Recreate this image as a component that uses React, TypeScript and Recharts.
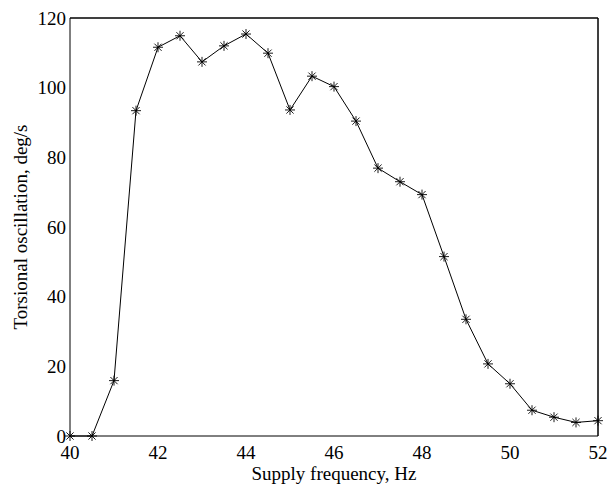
import { LineChart, Line, XAxis, YAxis, ReferenceLine } from "recharts";

const freqs = [40, 40.5, 41, 41.5, 42, 42.5, 43, 43.5, 44, 44.5, 45, 45.5, 46, 46.5, 47, 47.5, 48, 48.5, 49, 49.5, 50, 50.5, 51, 51.5, 52];
const oscillation = [0, 0, 15.9, 93.4, 111.6, 114.9, 107.4, 112.0, 115.4, 109.9, 93.6, 103.3, 100.3, 90.4, 76.9, 73.0, 69.3, 51.5, 33.5, 20.7, 15.0, 7.4, 5.4, 3.9, 4.4];
const xTicks = [40, 42, 44, 46, 48, 50, 52];
const yTicks = [0, 20, 40, 60, 80, 100, 120];

const data = freqs.map((f, i) => ({ f, v: oscillation[i] }));

const FONT = "'Liberation Serif', 'Times New Roman', serif";
const FS = 19;
const tickStyle = { fontSize: FS, fontFamily: FONT, fill: "#000" };
const hiddenLabels = { fontSize: 1, fill: "none" };

// MATLAB style '*' marker
function Star(props: any) {
  const { cx, cy } = props;
  if (cx == null || cy == null) return null;
  const r = 5;
  const d = r * 0.72;
  return (
    <g stroke="#000" strokeWidth={0.9}>
      <line x1={cx - r} y1={cy} x2={cx + r} y2={cy} />
      <line x1={cx} y1={cy - r} x2={cx} y2={cy + r} />
      <line x1={cx - d} y1={cy - d} x2={cx + d} y2={cy + d} />
      <line x1={cx - d} y1={cy + d} x2={cx + d} y2={cy - d} />
    </g>
  );
}

export default function App() {
  return (
    <div style={{ position: "absolute", left: 0, top: 0, background: "#fff" }}>
      <LineChart width={608} height={487} data={data} margin={{ top: 0, right: 0, left: 0, bottom: 0 }}>
        <XAxis
          dataKey="f"
          type="number"
          domain={[40, 52]}
          ticks={xTicks}
          height={51}
          tickSize={2}
          tickMargin={8}
          tickLine={false}
          tick={tickStyle}
          stroke="#000"
          label={{
            content: ({ viewBox }: any) => (
              <text x={viewBox.x + viewBox.width / 2} y={viewBox.y + 44} textAnchor="middle" fontSize={FS} fontFamily={FONT} fill="#000">
                Supply frequency, Hz
              </text>
            ),
          }}
        />
        <XAxis xAxisId="top" orientation="top" dataKey="f" type="number" domain={[40, 52]} ticks={xTicks} height={18} tickLine={false} tick={hiddenLabels} stroke="#000" />
        <YAxis
          type="number"
          domain={[0, 120]}
          ticks={yTicks}
          width={70}
          tickSize={2}
          tickMargin={2}
          tickLine={false}
          tick={tickStyle}
          stroke="#000"
          label={{
            content: ({ viewBox }: any) => {
              const x = viewBox.x + 20;
              const y = viewBox.y + viewBox.height / 2;
              return (
                <text x={x} y={y} dy="0.35em" transform={`rotate(-90, ${x}, ${y})`} textAnchor="middle" fontSize={FS} fontFamily={FONT} fill="#000">
                  Torsional oscillation, deg/s
                </text>
              );
            },
          }}
        />
        <YAxis yAxisId="right" orientation="right" type="number" domain={[0, 120]} ticks={yTicks} width={10} tickLine={false} tick={hiddenLabels} stroke="#000" />
        <ReferenceLine y={120} stroke="#000" />
        <ReferenceLine x={52} stroke="#000" />
        <Line dataKey="v" stroke="#000" strokeWidth={1} dot={<Star />} activeDot={false} isAnimationActive={false} />
      </LineChart>
    </div>
  );
}
